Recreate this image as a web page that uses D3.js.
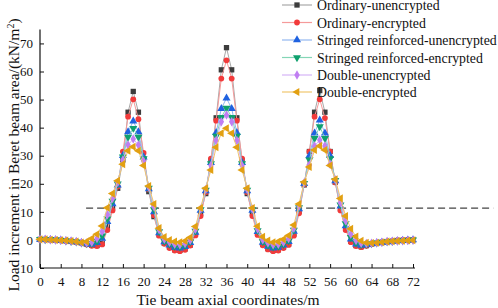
<!DOCTYPE html>
<html><head><meta charset="utf-8">
<script src="https://cdn.jsdelivr.net/npm/d3@7"></script>
<style>body{margin:0;background:#fff}svg{display:block}text{font-family:"Liberation Serif","Times New Roman",serif;fill:#111}</style>
</head><body><svg id="c" width="498" height="308"></svg>
<script>
const xCoords = d3.range(0, 73);
const seriesNames = ["Ordinary-unencrypted","Ordinary-encrypted","Stringed reinforced-unencrypted","Stringed reinforced-encrypted","Double-unencrypted","Double-encrypted"];
const ordinaryUnencrypted = [0.2,0.2,0.1,0.0,-0.1,-0.3,-0.5,-0.7,-1.0,-1.4,-1.9,-2.0,-1.2,
 4.7,11.4,18.4,28.5,45.5,52.9,45.5,29.0,17.2,8.3,1.8,
 -1.2,-2.6,-3.5,-3.7,-3.2,-1.8,2.0,
 9.5,16.5,28.3,43.5,60.6,68.5,60.6,43.5,28.3,16.5,9.5,
 2.2,-1.6,-3.1,-3.7,-3.5,-2.6,-1.4,
 2.1,10.1,19.6,31.5,45.5,53.2,45.5,31.5,20.5,11.0,4.0,
 -0.5,-2.0,-2.4,-2.0,-1.5,-1.2,-0.9,-0.7,-0.5,-0.3,-0.2,-0.1,0.0];
const ordinaryEncrypted = [0.1,0.1,0.0,-0.1,-0.2,-0.4,-0.6,-0.8,-1.1,-1.6,-2.1,-2.2,-1.6,
 3.5,10.5,19.0,31.5,43.9,50.1,43.0,31.0,18.0,8.8,1.5,
 -1.4,-2.9,-3.8,-4.0,-3.5,-2.0,1.6,
 8.5,17.0,29.0,42.5,57.5,64.0,57.5,42.5,29.0,17.0,8.5,
 1.8,-1.9,-3.4,-4.0,-3.8,-2.9,-1.8,
 1.5,9.5,19.8,31.5,43.9,50.1,43.4,31.5,20.5,10.5,3.5,
 -0.8,-2.2,-2.6,-2.1,-1.5,-1.1,-0.8,-0.5,-0.3,-0.1,0.0,0.1,0.1];
const stringedUnencrypted = [0.2,0.1,0.1,0.0,-0.1,-0.3,-0.5,-0.7,-1.0,-1.4,-1.6,-1.0,0.5,
 6.5,12.8,19.5,30.0,38.5,42.3,38.5,29.5,18.2,10.0,2.5,
 -0.7,-1.9,-2.7,-2.9,-2.4,-1.0,2.7,
 10.5,17.5,27.5,38.2,46.8,50.5,46.8,38.2,27.5,17.5,10.5,
 2.9,-0.9,-2.3,-2.9,-2.7,-1.9,-0.6,
 3.0,11.0,20.0,30.0,38.0,42.7,38.0,30.0,21.0,12.0,5.0,
 0.3,-1.5,-2.0,-1.8,-1.4,-1.1,-0.9,-0.7,-0.5,-0.3,-0.2,-0.1,0.0];
const stringedEncrypted = [0.2,0.1,0.1,0.0,-0.1,-0.3,-0.5,-0.7,-1.0,-1.3,-1.3,-0.5,1.5,
 7.5,13.8,20.0,29.6,36.6,39.8,36.6,29.0,18.5,10.8,3.0,
 -0.4,-1.5,-2.3,-2.5,-2.0,-0.7,3.2,
 10.8,17.8,27.2,37.0,43.7,47.0,43.7,37.0,27.2,17.8,10.8,
 3.3,-0.6,-1.9,-2.5,-2.3,-1.6,-0.3,
 3.5,11.5,20.2,28.5,36.2,40.4,36.2,29.0,21.2,12.5,5.8,
 0.9,-1.0,-1.7,-1.6,-1.3,-1.0,-0.8,-0.6,-0.5,-0.3,-0.2,-0.1,0.0];
const doubleUnencrypted = [0.2,0.2,0.1,0.0,-0.1,-0.3,-0.4,-0.6,-0.9,-1.1,-0.8,0.5,3.0,
 9.0,14.8,20.5,28.5,33.8,36.0,33.8,28.0,18.8,11.8,3.6,
 0.2,-0.8,-1.5,-1.7,-1.3,-0.1,3.8,
 11.0,18.0,26.5,35.4,42.1,44.5,42.1,35.4,26.5,18.0,11.0,
 3.9,0.1,-1.1,-1.7,-1.5,-0.8,0.5,
 4.2,12.0,20.4,26.7,33.5,35.6,33.5,27.0,21.4,13.2,6.8,
 2.0,-0.2,-1.2,-1.3,-1.2,-1.0,-0.8,-0.6,-0.5,-0.4,-0.3,-0.2,-0.1];
const doubleEncrypted = [0.2,0.2,0.1,0.0,-0.1,-0.2,-0.4,-0.6,-0.9,-0.6,0.5,2.0,5.0,
 11.5,16.5,21.1,27.0,31.8,33.2,31.8,26.5,19.2,12.8,4.2,
 1.0,0.0,-0.6,-0.8,-0.4,0.9,4.8,
 11.4,18.4,24.9,33.0,38.0,39.8,38.0,33.0,24.9,18.4,11.4,
 4.9,1.1,-0.2,-0.8,-0.6,0.2,1.6,
 5.3,12.8,20.6,26.0,32.0,33.5,32.0,26.5,21.6,14.8,8.5,
 4.0,1.2,-0.3,-1.0,-1.1,-1.0,-0.8,-0.6,-0.5,-0.4,-0.3,-0.2,-0.1];
const seriesValues = [ordinaryUnencrypted, ordinaryEncrypted, stringedUnencrypted, stringedEncrypted, doubleUnencrypted, doubleEncrypted];
const xTicks = d3.range(0, 73, 4);
const yTicks = [-10, 0, 10, 20, 30, 40, 50, 60, 70];
const yTickLabels = ["10","0","10","20","30","40","50","60","70"];
const thresholdValue = 11.3;
const thresholdRange = [8.9, 87.5];

const markerColors = ["#3c3c3c","#f23a3a","#1f62e0","#0fa06e","#c07ef2","#e2a012"];
const lineColors = ["#a8a8a8","#f59a9a","#92b8f0","#84d6b6","#d6b4f6","#f0c66e"];
const shapes = [
  {t:d3.symbolSquare, s:28, r:0},
  {t:d3.symbolCircle, s:26, r:0},
  {t:d3.symbolTriangle, s:28, r:0},
  {t:d3.symbolTriangle, s:28, r:180},
  {t:d3.symbolDiamond, s:26, r:0},
  {t:d3.symbolTriangle, s:28, r:-90}
];

const svg = d3.select("#c");
const x = d3.scaleLinear().domain([0, 72]).range([40, 413]);
const y = d3.scaleLinear().domain([-10, 75]).range([268, 29.4]);

// axes
const gx = svg.append("g").attr("transform","translate(0,268)")
  .call(d3.axisBottom(x).tickValues(xTicks).tickSize(-4).tickPadding(9).tickSizeOuter(0));
gx.select(".domain").remove();
gx.selectAll("text").style("font-size","13px").style("font-family","Liberation Serif");
gx.selectAll("line").attr("stroke","#111");
svg.append("line").attr("x1",40).attr("x2",415).attr("y1",268).attr("y2",268).attr("stroke","#111").attr("stroke-width",1.2);

const gy = svg.append("g").attr("transform","translate(40,0)")
  .call(d3.axisLeft(y).tickValues(yTicks).tickFormat((d,i)=>yTickLabels[i]).tickSize(-4).tickPadding(7).tickSizeOuter(0));
gy.select(".domain").remove();
gy.selectAll("text").style("font-size","13px").style("font-family","Liberation Serif");
gy.selectAll("line").attr("stroke","#111");
svg.append("line").attr("x1",40).attr("x2",40).attr("y1",29.4).attr("y2",268).attr("stroke","#111").attr("stroke-width",1.2);

// titles
svg.append("text").attr("x",228).attr("y",305).attr("text-anchor","middle").style("font-size","15.5px").text("Tie beam axial coordinates/m");
const yt = svg.append("text").attr("transform","translate(19,155) rotate(-90)").attr("text-anchor","middle").style("font-size","15.5px");
yt.append("tspan").text("Load increment in Beret beam area/(kN/m");
yt.append("tspan").attr("baseline-shift","super").style("font-size","10px").text("2");
yt.append("tspan").text(")");

// threshold
svg.append("line").attr("x1",x(thresholdRange[0])).attr("x2",x(thresholdRange[1]))
  .attr("y1",y(thresholdValue)).attr("y2",y(thresholdValue))
  .attr("stroke","#444").attr("stroke-width",1.3).attr("stroke-dasharray","7,4");

// series
const lineGen = d3.line().x((d,i)=>x(xCoords[i])).y(d=>y(d));
seriesValues.forEach((vals, k) => {
  const g = svg.append("g");
  g.append("path").attr("d", lineGen(vals)).attr("fill","none").attr("stroke",lineColors[k]).attr("stroke-width",1);
  const sym = d3.symbol().type(shapes[k].t).size(shapes[k].s);
  g.selectAll("path.m").data(vals).join("path").attr("class","m")
    .attr("d", sym())
    .attr("transform",(d,i)=>`translate(${x(xCoords[i])},${y(d)}) rotate(${shapes[k].r})`)
    .attr("fill", markerColors[k]);
});

// legend
const legendY = [5, 22.5, 40, 57.5, 75, 92];
seriesNames.forEach((name, k) => {
  const g = svg.append("g").attr("transform",`translate(0,${legendY[k]})`);
  g.append("line").attr("x1",282).attr("x2",312).attr("y1",0).attr("y2",0).attr("stroke",lineColors[k]).attr("stroke-width",1.2);
  g.append("path").attr("d", d3.symbol().type(shapes[k].t).size(shapes[k].s)())
    .attr("transform",`translate(297,0) rotate(${shapes[k].r})`).attr("fill",markerColors[k]);
  g.append("text").attr("x",317).attr("y",5).style("font-size","13.8px").text(name);
});
</script></body></html>
